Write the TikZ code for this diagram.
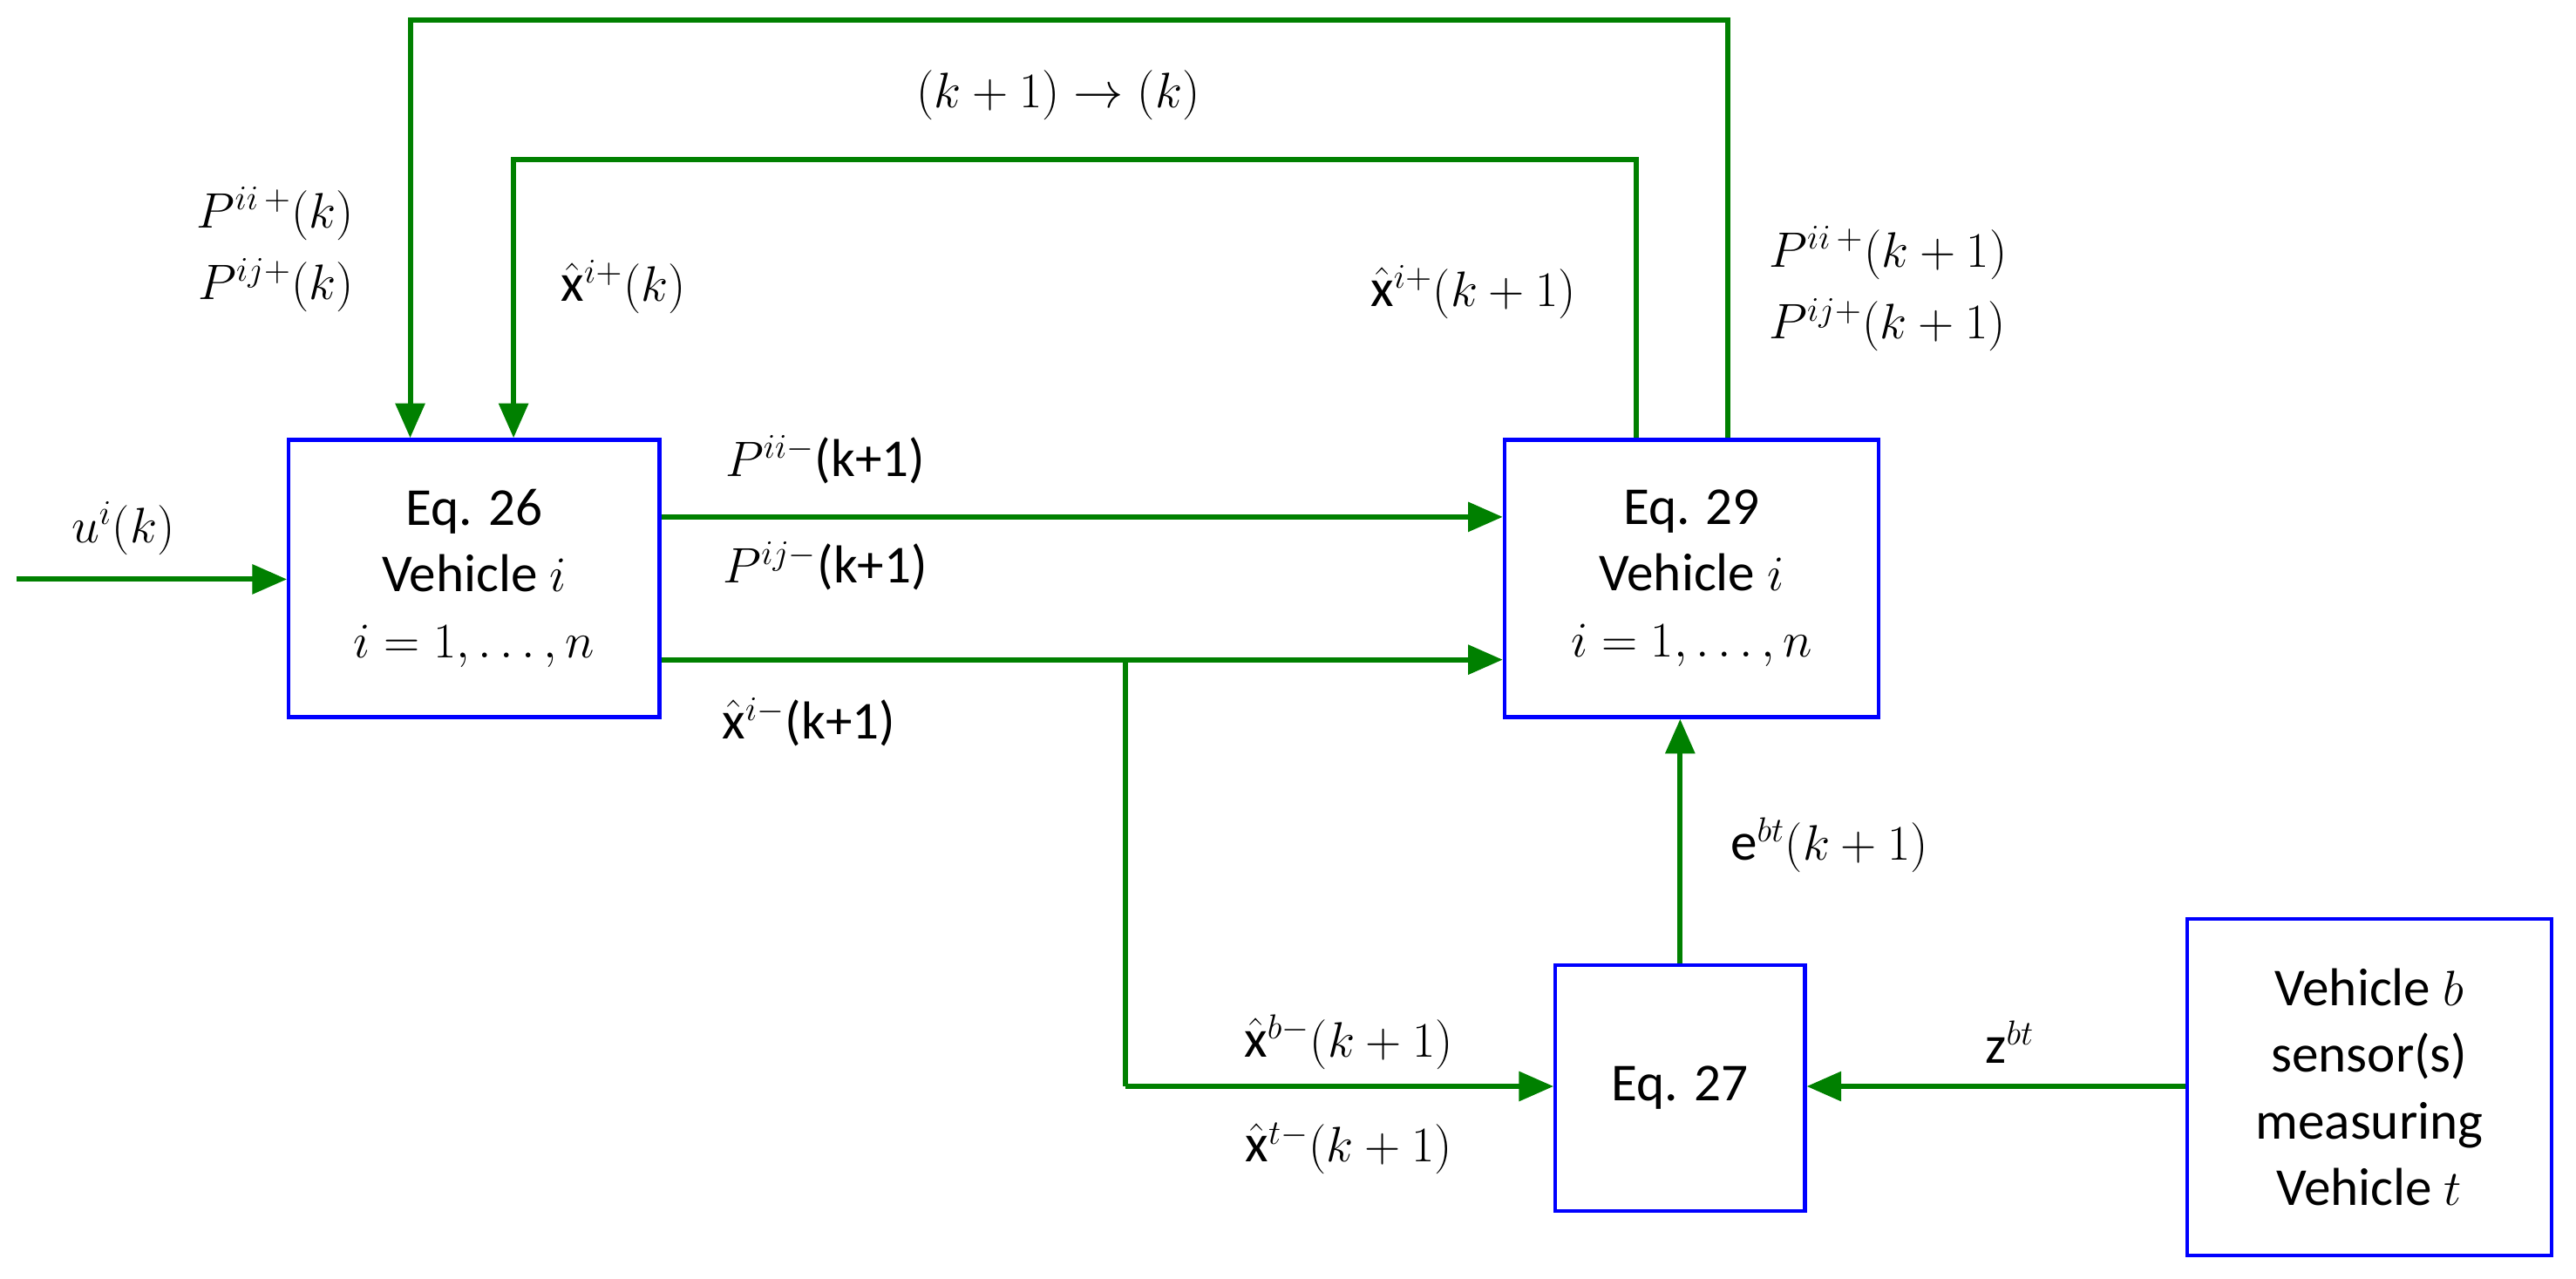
\documentclass[tikz,border=0pt]{standalone}
\usepackage{fontspec}
\setmainfont{Carlito}
\usetikzlibrary{arrows.meta}
\definecolor{gr}{RGB}{0,128,0}
\begin{document}
\begin{tikzpicture}[x=0.02cm,y=-0.02cm,font=\fontsize{18.5}{23}\selectfont,
 box/.style={draw=blue,line width=1.3pt,align=center,inner sep=0pt},
 ar/.style={draw=gr,line width=1.8pt,-{Triangle[length=12pt,width=10pt]}},
 ln/.style={draw=gr,line width=1.8pt}]
\useasboundingbox (0,0) rectangle (1570,779);
\node[box,minimum width=226*0.02cm,minimum height=169*0.02cm] (b1) at (289,352.5) {Eq. 26\\Vehicle $i$\\$i=1,\ldots,n$};
\node[box,minimum width=228*0.02cm,minimum height=169*0.02cm] (b2) at (1031,352.5) {Eq. 29\\Vehicle $i$\\$i=1,\ldots,n$};
\node[box,minimum width=152*0.02cm,minimum height=150*0.02cm] (b3) at (1024,663) {Eq. 27};
\node[box,minimum width=222*0.02cm,minimum height=205*0.02cm] (b4) at (1444,662.5) {Vehicle $b$\\sensor(s)\\measuring\\Vehicle $t$};
\coordinate (u0) at (10,353);
\draw[ar] (u0) -- (b1.west|-u0);
\coordinate (t1) at (1053,12); \coordinate (t2) at (250,12);
\draw[ar] (b2.north-|t1) -- (t1) -- (t2) -- (b1.north-|t2);
\coordinate (s1) at (997,97); \coordinate (s2) at (313,97);
\draw[ar] (b2.north-|s1) -- (s1) -- (s2) -- (b1.north-|s2);
\coordinate (p) at (0,315);
\draw[ar] (b1.east|-p) -- (b2.west|-p);
\coordinate (q) at (0,402);
\draw[ar] (b1.east|-q) -- (b2.west|-q);
\coordinate (br) at (686,402); \coordinate (bc) at (686,662);
\draw[ln] (br) -- (bc);
\draw[ar] (bc) -- (b3.west|-bc);
\draw[ar] (b3.north-|b3.north) -- (b2.south-|b3.north);
\draw[ar] (b4.west|-bc) -- (b3.east|-bc);
\node (l1) at (645,58) {$(k+1)\rightarrow(k)$};
\node[anchor=east,align=right] (l2) at (222,152) {$P^{ii\,+}(k)$\\[2pt]$P^{ij+}(k)$};
\node (l3) at (380,175) {$\hat{\mathrm{x}}^{i+}(k)$};
\node (l4) at (898,178) {$\hat{\mathrm{x}}^{i+}(k+1)$};
\node[anchor=west,align=left] (l5) at (1072,176) {$P^{ii\,+}(k+1)$\\[2pt]$P^{ij+}(k+1)$};
\node (l6) at (75,322) {$u^i(k)$};
\node (l7) at (503,280) {$P^{ii-}$(k+1)};
\node (l8) at (503,345) {$P^{ij-}$(k+1)};
\node (l9) at (493,440) {$\hat{\mathrm{x}}^{i-}$(k+1)};
\node (l10) at (1115,515) {$\mathrm{e}^{bt}(k+1)$};
\node (l11) at (822,635) {$\hat{\mathrm{x}}^{b-}(k+1)$};
\node (l12) at (822,700) {$\hat{\mathrm{x}}^{t-}(k+1)$};
\node (l13) at (1225,635) {$\mathrm{z}^{bt}$};
\end{tikzpicture}
\end{document}
